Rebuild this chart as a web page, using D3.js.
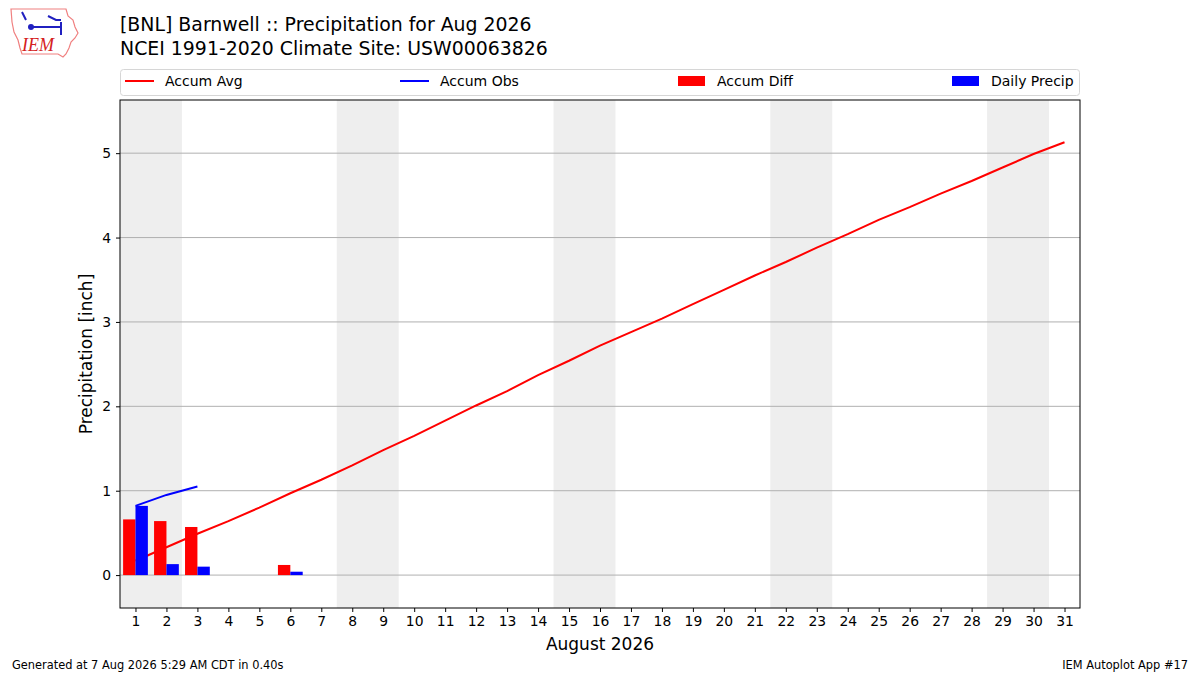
<!DOCTYPE html>
<html>
<head>
<meta charset="utf-8">
<script src="https://cdn.jsdelivr.net/npm/d3@7"></script>
<style>
  body { margin: 0; background: #fff; }
  text { font-family: "DejaVu Sans", sans-serif; }
</style>
</head>
<body>
<div id="grafico"></div>
<script>
// datos
const dias = d3.range(1, 32);
const accumAvg = [0.17, 0.33, 0.49, 0.64, 0.80, 0.97, 1.13, 1.30, 1.48, 1.65,
  1.83, 2.01, 2.18, 2.37, 2.54, 2.72, 2.88, 3.04, 3.21, 3.38,
  3.55, 3.71, 3.88, 4.04, 4.21, 4.36, 4.52, 4.67, 4.83, 4.99, 5.13];
const accumObsDias = [1, 2, 3];
const accumObs = [0.82, 0.95, 1.05];
const precipDias = [1, 2, 3, 6];
const dailyPrecip = [0.82, 0.13, 0.10, 0.04];
const accumDiff = [0.66, 0.64, 0.57, 0.12];
const finesDeSemana = [1, 8, 15, 22, 29]; // sabado de cada fin de semana
const yTicks = [0, 1, 2, 3, 4, 5];

const width = 1200;
const height = 675;
const margin = { top: 100, right: 120, bottom: 67, left: 120 };

const svg = d3
  .select("#grafico")
  .append("svg")
  .attr("width", width)
  .attr("height", height);

const x = d3
  .scaleLinear()
  .domain([0.5, 31.5])
  .range([margin.left, width - margin.right]);

const y = d3
  .scaleLinear()
  .domain([-0.39, 5.63])
  .range([height - margin.bottom, margin.top]);

// sombreado de fines de semana
svg
  .append("g")
  .selectAll("rect")
  .data(finesDeSemana)
  .join("rect")
  .attr("x", (d) => x(d - 0.5))
  .attr("y", margin.top)
  .attr("width", (d) => x(d + 1.5) - x(d - 0.5))
  .attr("height", y.range()[0] - margin.top)
  .attr("fill", "#eeeeee");

// grilla
svg
  .append("g")
  .selectAll("line")
  .data(yTicks)
  .join("line")
  .attr("x1", x.range()[0])
  .attr("x2", x.range()[1])
  .attr("y1", (d) => y(d))
  .attr("y2", (d) => y(d))
  .attr("stroke", "#b0b0b0")
  .attr("stroke-width", 1);

// linea promedio acumulado
const linea = d3
  .line()
  .x((d) => x(d[0]))
  .y((d) => y(d[1]));

svg
  .append("path")
  .datum(d3.zip(dias, accumAvg))
  .attr("d", linea)
  .attr("fill", "none")
  .attr("stroke", "red")
  .attr("stroke-width", 2);

svg
  .append("path")
  .datum(d3.zip(accumObsDias, accumObs))
  .attr("d", linea)
  .attr("fill", "none")
  .attr("stroke", "blue")
  .attr("stroke-width", 2);

// barras
const anchoBarra = 0.4;
svg
  .append("g")
  .selectAll("rect")
  .data(d3.zip(precipDias, accumDiff))
  .join("rect")
  .attr("x", (d) => x(d[0] - anchoBarra))
  .attr("width", x(anchoBarra) - x(0))
  .attr("y", (d) => y(Math.max(0, d[1])))
  .attr("height", (d) => Math.abs(y(d[1]) - y(0)))
  .attr("fill", "red");

svg
  .append("g")
  .selectAll("rect")
  .data(d3.zip(precipDias, dailyPrecip))
  .join("rect")
  .attr("x", (d) => x(d[0]))
  .attr("width", x(anchoBarra) - x(0))
  .attr("y", (d) => y(d[1]))
  .attr("height", (d) => y(0) - y(d[1]))
  .attr("fill", "blue");

// ejes
const ejeX = svg
  .append("g")
  .attr("transform", `translate(0, ${y.range()[0]})`)
  .call(d3.axisBottom(x).tickValues(dias).tickFormat(d3.format("d")).tickSizeOuter(0).tickSize(4).tickPadding(4));

const ejeY = svg
  .append("g")
  .attr("transform", `translate(${x.range()[0]}, 0)`)
  .call(d3.axisLeft(y).tickValues(yTicks).tickFormat(d3.format("d")).tickSizeOuter(0).tickSize(4).tickPadding(5));

[ejeX, ejeY].forEach((g) => {
  g.select(".domain").remove();
  g.selectAll("text").style("font-size", "13.9px").attr("fill", "#000");
  g.selectAll("line").attr("stroke", "#000");
});

// marco
svg
  .append("rect")
  .attr("x", x.range()[0])
  .attr("y", margin.top)
  .attr("width", x.range()[1] - x.range()[0])
  .attr("height", y.range()[0] - margin.top)
  .attr("fill", "none")
  .attr("stroke", "#000")
  .attr("stroke-width", 1);

svg
  .append("text")
  .attr("x", (x.range()[0] + x.range()[1]) / 2)
  .attr("y", 650)
  .attr("text-anchor", "middle")
  .style("font-size", "17px")
  .text("August 2026");

svg
  .append("text")
  .attr("transform", `translate(92, ${(y.range()[0] + margin.top) / 2}) rotate(-90)`)
  .attr("text-anchor", "middle")
  .style("font-size", "17px")
  .text("Precipitation [inch]");

// titulo
svg
  .append("text")
  .attr("x", 120)
  .attr("y", 31)
  .style("font-size", "18.9px")
  .text("[BNL] Barnwell :: Precipitation for Aug 2026");

svg
  .append("text")
  .attr("x", 120)
  .attr("y", 55)
  .style("font-size", "18.9px")
  .text("NCEI 1991-2020 Climate Site: USW00063826");

// leyenda
const leyendas = [
  { texto: "Accum Avg", color: "red", tipo: "linea", x: 125 },
  { texto: "Accum Obs", color: "blue", tipo: "linea", x: 400 },
  { texto: "Accum Diff", color: "red", tipo: "caja", x: 678 },
  { texto: "Daily Precip", color: "blue", tipo: "caja", x: 952 },
];

svg
  .append("rect")
  .attr("x", 120.5)
  .attr("y", 69.5)
  .attr("width", 959)
  .attr("height", 26)
  .attr("rx", 3)
  .attr("fill", "#fff")
  .attr("stroke", "#d6d6d6");

const leyenda = svg.append("g");
leyenda
  .selectAll("g")
  .data(leyendas)
  .join("g")
  .attr("transform", (d) => `translate(${d.x}, 81)`)
  .each(function (d) {
    const g = d3.select(this);
    if (d.tipo === "linea") {
      g.append("line")
        .attr("x1", 0)
        .attr("x2", 29)
        .attr("stroke", d.color)
        .attr("stroke-width", 2);
    } else {
      g.append("rect")
        .attr("y", -5)
        .attr("width", 27)
        .attr("height", 10)
        .attr("fill", d.color);
    }
    g.append("text")
      .attr("x", d.tipo === "linea" ? 40 : 39)
      .attr("y", 5)
      .style("font-size", "14px")
      .text(d.texto);
  });

// pie de pagina
svg
  .append("text")
  .attr("x", 12)
  .attr("y", 669)
  .style("font-size", "11.4px")
  .text("Generated at 7 Aug 2026 5:29 AM CDT in 0.40s");

svg
  .append("text")
  .attr("x", 1188)
  .attr("y", 669)
  .attr("text-anchor", "end")
  .style("font-size", "11.4px")
  .text("IEM Autoplot App #17");

// logo IEM (aproximado)
const logo = svg.append("g");
logo
  .append("path")
  .attr("d", "M11,9 L66,9 L68,16 L73,20 L75,27 L78,33 L75,38 L71,42 L69,48 L66,54 L63,57 L58,54 L22,54 L20,48 L18,40 L14,32 L12,22 Z")
  .attr("fill", "none")
  .attr("stroke", "#f08080")
  .attr("stroke-width", 1.2);
logo
  .append("path")
  .attr("d", "M22,12 L26,20 M31,27 L61,27 M48,16 L56,20 L61,20 M61,22 L61,35")
  .attr("fill", "none")
  .attr("stroke", "#2020c0")
  .attr("stroke-width", 2);
logo.append("circle").attr("cx", 31).attr("cy", 27).attr("r", 3).attr("fill", "#2020c0");
logo
  .append("text")
  .attr("x", 22)
  .attr("y", 51)
  .style("font-family", "Liberation Serif, serif")
  .style("font-style", "italic")
  .style("font-size", "18px")
  .attr("fill", "#d42020")
  .text("IEM");
</script>
</body>
</html>
